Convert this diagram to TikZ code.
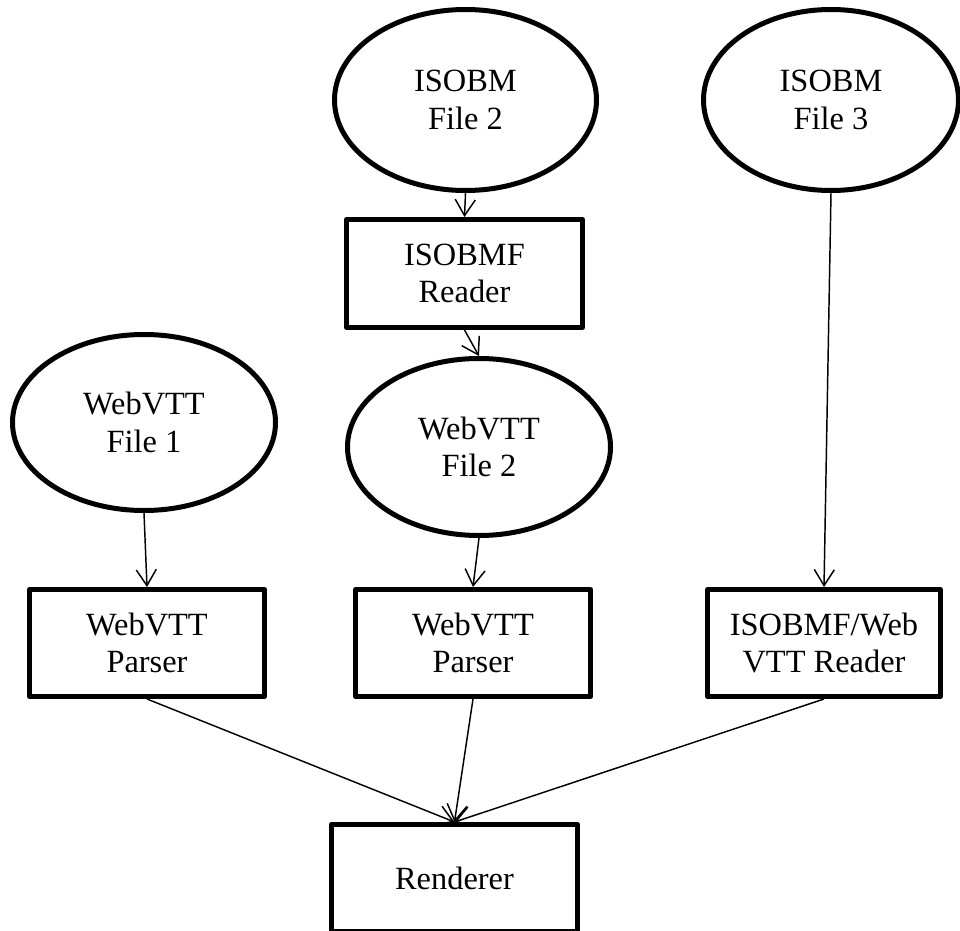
\documentclass[tikz,border=0pt]{standalone}
\usepackage{fontspec}
\setmainfont{Liberation Serif}
\usetikzlibrary{shapes.geometric,arrows.meta}
\tikzset{
  lbl/.style={font=\fontsize{24.3pt}{28pt}\selectfont, align=center, inner sep=0pt, line width=3.75pt, draw=black, line join=round},
  oval/.style={lbl, ellipse, minimum width=197pt, minimum height=134pt},
  boxnode/.style={lbl, rectangle, minimum width=177pt, minimum height=80.5pt},
  conn/.style={line width=1.1pt, -{Straight Barb[length=12pt,width=15pt,line width=1.1pt]}}
}
\begin{document}
\begin{tikzpicture}[x=0.75pt,y=-0.75pt]
\useasboundingbox (0,0) rectangle (960,931);
\node[oval, minimum width=196.5pt, minimum height=135.75pt] (f2) at (465.5,100) {ISOBM\\File 2};
\node[oval, minimum width=191.25pt, minimum height=135.75pt] (f3) at (831,100) {ISOBM\\File 3};
\node[boxnode, minimum width=177pt, minimum height=81pt] (rd) at (464.5,273.5) {ISOBMF\\Reader};
\node[oval, minimum width=197.25pt, minimum height=132pt] (w1) at (144,422.5) {WebVTT\\File 1};
\node[oval, minimum width=197.25pt, minimum height=132.75pt] (w2) at (479,447) {WebVTT\\File 2};
\node[boxnode, minimum width=176.25pt, minimum height=80.25pt] (p1) at (147,643) {WebVTT\\Parser};
\node[boxnode, minimum width=176.25pt, minimum height=80.25pt] (p2) at (473,643) {WebVTT\\Parser};
\node[boxnode, minimum width=174.75pt, minimum height=80.25pt] (p3) at (824,643) {ISOBMF/Web\\VTT Reader};
\node[boxnode, minimum width=184.5pt, minimum height=80.25pt] (rn) at (454.5,878) {Renderer};
\draw[conn] (f2.south) -- (rd.north);
\draw[conn] (rd.south) -- (w2.north);
\draw[conn] (f3.south) -- (p3.north);
\draw[conn] (w1.south) -- (p1.north);
\draw[conn] (w2.south) -- (p2.north);
\draw[conn] (p1.south) -- (rn.north);
\draw[conn] (p2.south) -- (rn.north);
\draw[conn] (p3.south) -- (rn.north);
\end{tikzpicture}
\end{document}
